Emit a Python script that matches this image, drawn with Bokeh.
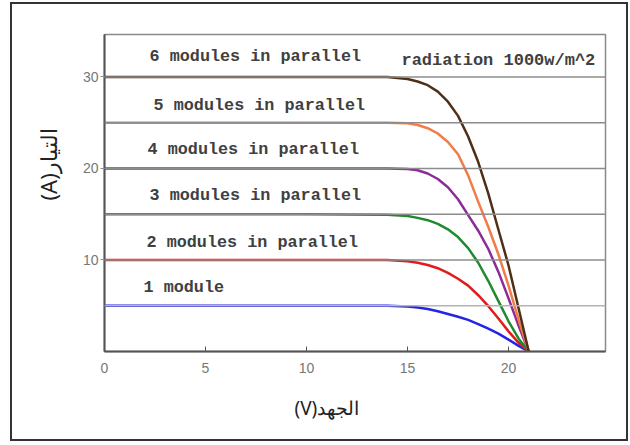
from bokeh.plotting import figure
from bokeh.models import Span, FixedTicker, Range1d, Title, Label
from bokeh.embed import file_html
from bokeh.resources import INLINE

# I-V characteristics of a PV array, 1..6 modules in parallel (1000 W/m^2)
voltage = [0, 10, 14, 15, 15.5, 16, 16.5, 17, 17.5, 18, 18.5, 19, 19.5, 20, 20.5, 21.0]

i_1mod = [5.0, 5.0, 5.0, 4.93, 4.82, 4.65, 4.4, 4.1, 3.8, 3.45, 3.0, 2.5, 1.95, 1.3, 0.62, 0]
i_2mod = [10.0, 10.0, 10.0, 9.85, 9.7, 9.45, 9.1, 8.6, 7.95, 7.2, 6.15, 4.95, 3.6, 2.2, 0.95, 0]
i_3mod = [15.0, 15.0, 14.95, 14.8, 14.6, 14.35, 13.95, 13.35, 12.5, 11.3, 9.7, 7.7, 5.5, 3.3, 1.4, 0]
i_4mod = [20.0, 20.0, 20.0, 19.95, 19.8, 19.45, 18.85, 17.95, 16.64, 14.9, 13.2, 11.2, 8.7, 5.8, 2.8, 0]
i_5mod = [25.0, 25.0, 25.0, 24.93, 24.75, 24.4, 23.82, 22.9, 21.55, 19.25, 16.35, 13.6, 10.6, 7.2, 3.45, 0]
i_6mod = [30.0, 30.0, 30.0, 29.78, 29.5, 29.1, 28.4, 27.3, 25.75, 23.5, 20.7, 17.25, 13.3, 9.4, 4.7, 0]

curve_labels = ["1 module",
                "2 modules in parallel",
                "3 modules in parallel",
                "4 modules in parallel",
                "5 modules in parallel",
                "6 modules in parallel"]
note_text = "radiation 1000w/m^2"
x_title = "(V)الجهد"
y_title = "(A)التيار"

x_ticks = [0, 5, 10, 15, 20]
y_ticks = [10, 20, 30]
grid_levels = [5, 10, 15, 20, 25, 30]

currents = [i_1mod, i_2mod, i_3mod, i_4mod, i_5mod, i_6mod]
colors = ["#2424e6", "#e01c1c", "#1f8a30", "#8b2c98", "#f27c45", "#4e3018"]

p = figure(width=618, height=439, output_backend="svg", toolbar_location=None,
           x_range=Range1d(0, 24.8), y_range=Range1d(0, 34.64),
           min_border_left=92, min_border_right=25,
           min_border_top=30, min_border_bottom=92)
# dark frame around the whole chart
p.styles = {"border": "2px solid #333333", "margin-left": "10px", "margin-top": "2px"}
p.background_fill_color = "white"
p.border_fill_color = "white"
p.outline_line_color = "#8a8a8a"
p.outline_line_width = 1.5
p.xgrid.grid_line_color = None
p.ygrid.grid_line_color = None

# horizontal reference lines
for lvl in grid_levels:
    p.add_layout(Span(location=lvl, dimension="width",
                      line_color="#b4b4b4" if lvl == 5 else "#8c8c8c",
                      line_width=1.5))

for ii, c in zip(currents, colors):
    p.line(voltage, ii, line_color=c, line_width=2.5, line_join="round")

# axes
tick_font = "Liberation Sans"
p.xaxis.ticker = FixedTicker(ticks=x_ticks)
p.xaxis.major_tick_in = 5
p.xaxis.major_tick_out = 0
p.xaxis.minor_tick_line_color = None
p.xaxis.axis_line_color = "#555555"
p.xaxis.axis_line_width = 2
p.xaxis.major_tick_line_color = "#555555"
p.xaxis.major_label_text_color = "#777777"
p.xaxis.major_label_text_font = tick_font
p.xaxis.major_label_text_font_size = "14px"
p.xaxis.major_label_standoff = 11

p.yaxis.ticker = FixedTicker(ticks=y_ticks)
p.yaxis.major_tick_in = 0
p.yaxis.major_tick_out = 4
p.yaxis.minor_tick_line_color = None
p.yaxis.axis_line_color = "#555555"
p.yaxis.axis_line_width = 2
p.yaxis.major_tick_line_color = "#8c8c8c"
p.yaxis.major_label_text_color = "#777777"
p.yaxis.major_label_text_font = tick_font
p.yaxis.major_label_text_font_size = "14px"
p.yaxis.major_label_standoff = 2

# axis titles
arab_font = "Noto Sans"
p.add_layout(Title(text=x_title, align="left", offset=190, standoff=35,
                   text_font=arab_font, text_font_size="19px",
                   text_font_style="normal", text_color="#222222"), "below")
p.add_layout(Title(text=y_title, align="left", offset=151, standoff=34,
                   text_font=arab_font, text_font_size="22px",
                   text_font_style="normal", text_color="#222222"), "left")

# curve captions
mono = "Liberation Mono"
cap_pos = [(1.93, 6.94), (2.08, 11.86), (2.23, 17.0), (2.13, 22.1), (2.43, 26.9), (2.23, 32.2)]
for (lx, ly), txt in zip(cap_pos, curve_labels):
    p.add_layout(Label(x=lx, y=ly, text=txt, text_align="left",
                       text_baseline="middle", text_color="#404040",
                       text_font=mono, text_font_size="16.8px",
                       text_font_style="bold"))
p.add_layout(Label(x=14.7, y=31.75, text=note_text, text_align="left",
                   text_baseline="middle", text_color="#404040",
                   text_font=mono, text_font_size="17px", text_font_style="bold"))

open("out.html", "w").write(file_html(p, INLINE))
